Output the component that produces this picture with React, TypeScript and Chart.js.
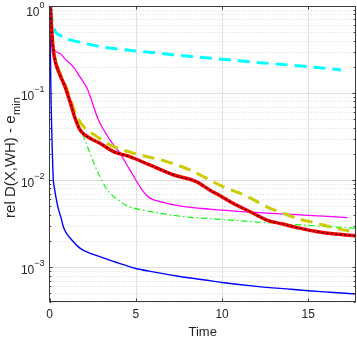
import React, { useEffect, useRef } from "react";
import { Chart, registerables } from "chart.js";

Chart.register(...registerables);

// ---------------- data ----------------
const X_MIN = 0;
const X_MAX = 17.75;
const Y_MIN = 4e-4;
const Y_MAX = 1;
const X_TICKS = [0, 5, 10, 15];
const Y_DECADES = [0, -1, -2, -3];
const X_TITLE = "Time";
const Y_TITLE_MAIN = "rel D(X,WH) - e";
const Y_TITLE_SUB = "min";

const blueTime = [0, 0.04, 0.08, 0.13, 0.2, 0.3, 0.39, 0.5, 0.69, 0.79, 1.0, 1.27, 1.75, 2.3, 2.91, 4.0, 4.94, 6.0, 7.54, 9.0, 10.0, 12.0, 14.0, 15.0, 16.5, 17.75];
const blueVal = [1.5, 0.3, 0.08, 0.03, 0.011, 0.0075, 0.0059, 0.0047, 0.0035, 0.0029, 0.0024, 0.00206, 0.00165, 0.00145, 0.00132, 0.00111, 0.00097, 0.00088, 0.00078, 0.00071, 0.000665, 0.0006, 0.000555, 0.000534, 0.00051, 0.00049];

const cyanTime = [0, 0.12, 0.3, 0.6, 1.0, 1.75, 3.0, 4.83, 6.4, 7.54, 8.7, 10.0, 12.0, 15.0, 16.9];
const cyanVal = [1.5, 0.75, 0.52, 0.46, 0.42, 0.383, 0.34, 0.307, 0.286, 0.27, 0.258, 0.244, 0.225, 0.201, 0.184];

const redTime = [0, 0.1, 0.2, 0.35, 0.6, 0.89, 1.2, 1.46, 1.75, 2.04, 2.5, 2.91, 3.7, 4.65, 5.8, 7.16, 8.5, 9.28, 10.0, 10.63, 11.6, 12.56, 13.53, 14.49, 15.46, 16.42, 17.75];
const redVal = [1.5, 0.6, 0.32, 0.22, 0.16, 0.118, 0.077, 0.052, 0.038, 0.033, 0.029, 0.0265, 0.0212, 0.0186, 0.0149, 0.0115, 0.0096, 0.0077, 0.0064, 0.0054, 0.00435, 0.00349, 0.00312, 0.0028, 0.00256, 0.00241, 0.00229];

const yellowTime = [0, 0.1, 0.2, 0.35, 0.6, 0.9, 1.2, 1.5, 1.85, 2.2, 2.6, 3.3, 4.0, 4.84, 5.8, 6.78, 8.12, 9.09, 10.05, 11.0, 11.79, 12.56, 13.53, 14.49, 15.46, 16.42, 17.75];
const yellowVal = [1.5, 0.62, 0.34, 0.23, 0.17, 0.125, 0.085, 0.058, 0.044, 0.037, 0.033, 0.0265, 0.023, 0.0204, 0.0183, 0.0163, 0.0131, 0.0105, 0.0084, 0.0071, 0.006, 0.00496, 0.00417, 0.00356, 0.0032, 0.00285, 0.0025];

const magentaTime = [0, 0.1, 0.2, 0.3, 0.6, 0.9, 1.37, 1.75, 2.2, 2.81, 3.49, 4.07, 4.65, 5.42, 5.81, 6.39, 7.54, 9.28, 11.6, 14.49, 17.29];
const magentaVal = [1.5, 0.6, 0.38, 0.31, 0.285, 0.245, 0.2, 0.154, 0.11, 0.05, 0.029, 0.0204, 0.0131, 0.0074, 0.0062, 0.00566, 0.00506, 0.00463, 0.00428, 0.00398, 0.0037];

const greenTime = [0, 0.1, 0.2, 0.31, 0.6, 0.89, 1.2, 1.56, 2.04, 2.33, 2.6, 2.91, 3.2, 3.49, 3.68, 4.07, 4.46, 5.0, 5.81, 7.74, 9.67, 11.6, 14.49, 17.75];
const greenVal = [1.5, 0.6, 0.36, 0.24, 0.17, 0.12, 0.08, 0.05, 0.029, 0.0204, 0.015, 0.011, 0.0085, 0.0071, 0.0065, 0.0057, 0.00506, 0.0047, 0.00435, 0.0038, 0.00356, 0.00334, 0.00306, 0.0028];

// ---------------- styling ----------------
const FONT = '"Liberation Sans", Arial, Helvetica, sans-serif';
const AXIS_COLOR = "#262626";

const pts = (t: number[], v: number[]) => t.map((x, i) => ({ x, y: v[i] }));

const decorPlugin = {
  id: "matlabDecor",
  beforeDatasetsDraw(chart: any) {
    const { ctx, chartArea: a, scales } = chart;
    const xs = scales.x;
    const ys = scales.y;
    ctx.save();
    ctx.lineWidth = 1;
    // minor y grid (dotted)
    ctx.strokeStyle = "#dcdcdc";
    ctx.setLineDash([1, 2]);
    for (let d = -4; d < 0; d++) {
      for (let m = 2; m <= 9; m++) {
        const v = m * Math.pow(10, d);
        if (v < Y_MIN || v > Y_MAX) continue;
        const py = Math.round(ys.getPixelForValue(v)) + 0.5;
        ctx.beginPath();
        ctx.moveTo(a.left, py);
        ctx.lineTo(a.right, py);
        ctx.stroke();
      }
    }
    ctx.setLineDash([]);
    ctx.strokeStyle = "#e0e0e0";
    for (const e of Y_DECADES) {
      const py = Math.round(ys.getPixelForValue(Math.pow(10, e))) + 0.5;
      ctx.beginPath();
      ctx.moveTo(a.left, py);
      ctx.lineTo(a.right, py);
      ctx.stroke();
    }
    for (const t of X_TICKS) {
      if (t <= X_MIN || t >= X_MAX) continue;
      const px = Math.round(xs.getPixelForValue(t)) + 0.5;
      ctx.beginPath();
      ctx.moveTo(px, a.top);
      ctx.lineTo(px, a.bottom);
      ctx.stroke();
    }
    ctx.restore();
  },
  afterDatasetsDraw(chart: any) {
    const { ctx, chartArea: a, scales } = chart;
    const xs = scales.x;
    const ys = scales.y;
    const L = Math.round(a.left) - 0.5;
    const R = Math.round(a.right) - 0.5;
    const T = Math.round(a.top) + 0.5;
    const B = Math.round(a.bottom) - 0.5;
    ctx.save();
    ctx.strokeStyle = "#3a3a3a";
    ctx.lineWidth = 1;
    ctx.strokeRect(L, T, R - L, B - T);
    // ticks
    ctx.beginPath();
    for (const t of X_TICKS) {
      const px = Math.round(xs.getPixelForValue(t)) + 0.5;
      ctx.moveTo(px, B);
      ctx.lineTo(px, B - 3);
      ctx.moveTo(px, T);
      ctx.lineTo(px, T + 3);
    }
    for (const e of Y_DECADES) {
      const py = Math.round(ys.getPixelForValue(Math.pow(10, e))) + 0.5;
      ctx.moveTo(L, py);
      ctx.lineTo(L + 3, py);
      ctx.moveTo(R, py);
      ctx.lineTo(R - 3, py);
    }
    for (let d = -4; d < 0; d++) {
      for (let m = 2; m <= 9; m++) {
        const v = m * Math.pow(10, d);
        if (v < Y_MIN || v > Y_MAX) continue;
        const py = Math.round(ys.getPixelForValue(v)) + 0.5;
        ctx.moveTo(L, py);
        ctx.lineTo(L + 1.8, py);
        ctx.moveTo(R, py);
        ctx.lineTo(R - 1.8, py);
      }
    }
    ctx.stroke();

    // y tick labels 10^e
    ctx.fillStyle = AXIS_COLOR;
    ctx.textBaseline = "alphabetic";
    const rightEdge = a.left - 5.2;
    for (const e of Y_DECADES) {
      const py = ys.getPixelForValue(Math.pow(10, e));
      const expStr = e === 0 ? "0" : "\u2212" + String(-e);
      ctx.font = `9px ${FONT}`;
      const expW = ctx.measureText(expStr).width;
      let expBase = py - 1.5;
      let baseBase = py + 6.5;
      const minTop = 1.5;
      if (expBase - 6.5 < minTop) {
        const shift = minTop - (expBase - 6.5);
        expBase += shift;
        baseBase += shift;
      }
      ctx.textAlign = "right";
      ctx.fillText(expStr, rightEdge, expBase);
      ctx.font = `12px ${FONT}`;
      ctx.fillText("10", rightEdge - expW, baseBase);
    }

    // y title with subscript
    ctx.save();
    const cy = (a.top + a.bottom) / 2 + 4;
    ctx.translate(15, cy);
    ctx.rotate(-Math.PI / 2);
    ctx.font = `15px ${FONT}`;
    const wMain = ctx.measureText(Y_TITLE_MAIN).width;
    ctx.font = `11px ${FONT}`;
    const wSub = ctx.measureText(Y_TITLE_SUB).width;
    const start = -(wMain + wSub) / 2;
    ctx.textAlign = "left";
    ctx.font = `15px ${FONT}`;
    ctx.fillText(Y_TITLE_MAIN, start, 0);
    ctx.font = `11px ${FONT}`;
    ctx.fillText(Y_TITLE_SUB, start + wMain + 0.5, 4.5);
    ctx.restore();

    ctx.restore();
  },
};

export default function App() {
  const ref = useRef<HTMLCanvasElement>(null);
  useEffect(() => {
    const canvas = ref.current;
    if (!canvas) return;
    const mk = (
      t: number[],
      v: number[],
      color: string,
      width: number,
      dash: number[] = []
    ) => ({
      data: pts(t, v),
      borderColor: color,
      backgroundColor: color,
      borderWidth: width,
      borderDash: dash,
      pointRadius: 0,
      fill: false,
      clip: 0,
      cubicInterpolationMode: "monotone" as const,
    });
    const chart = new Chart(canvas, {
      type: "line",
      data: {
        datasets: [
          mk(redTime, redVal, "#000000", 1.4, [1.5, 3]),
          mk(redTime, redVal, "#ff0000", 3.5),
          mk(yellowTime, yellowVal, "#cccc00", 3, [12, 7]),
          mk(magentaTime, magentaVal, "#ff00ff", 1.3),
          mk(greenTime, greenVal, "#00ff00", 1.2, [6, 3, 1.5, 3]),
          mk(cyanTime, cyanVal, "#00ffff", 3, [12, 7]),
          mk(blueTime, blueVal, "#0000ff", 1.4),
        ] as any,
      },
      options: {
        animation: false,
        responsive: false,
        devicePixelRatio: 1,
        layout: { padding: { left: 0, top: 6, right: 1.3, bottom: 0 } },
        plugins: { legend: { display: false }, tooltip: { enabled: false } },
        scales: {
          x: {
            type: "linear",
            min: X_MIN,
            max: X_MAX,
            grid: { display: false, drawTicks: false },
            border: { display: false },
            afterBuildTicks: (s: any) => {
              s.ticks = X_TICKS.map((value) => ({ value }));
            },
            afterFit: (s: any) => {
              s.height = 36.3;
            },
            ticks: {
              font: { family: FONT, size: 12 },
              color: AXIS_COLOR,
              padding: 6,
              maxRotation: 0,
              autoSkip: false,
            },
            title: {
              display: true,
              text: X_TITLE,
              color: AXIS_COLOR,
              font: { family: FONT, size: 13, lineHeight: 1 },
              padding: { top: 0, bottom: -1 },
            },
          },
          y: {
            type: "logarithmic",
            min: Y_MIN,
            max: Y_MAX,
            grid: { display: false, drawTicks: false },
            border: { display: false },
            ticks: { display: false },
            afterFit: (s: any) => {
              s.width = 49.7;
            },
          },
        },
      } as any,
      plugins: [decorPlugin],
    });
    return () => chart.destroy();
  }, []);
  return (
    <div
      style={{
        position: "fixed",
        left: 0,
        top: 0,
        width: 357,
        height: 338,
        background: "#ffffff",
      }}
    >
      <canvas
        ref={ref}
        width={357}
        height={338}
        style={{ display: "block", width: 357, height: 338 }}
      />
    </div>
  );
}
